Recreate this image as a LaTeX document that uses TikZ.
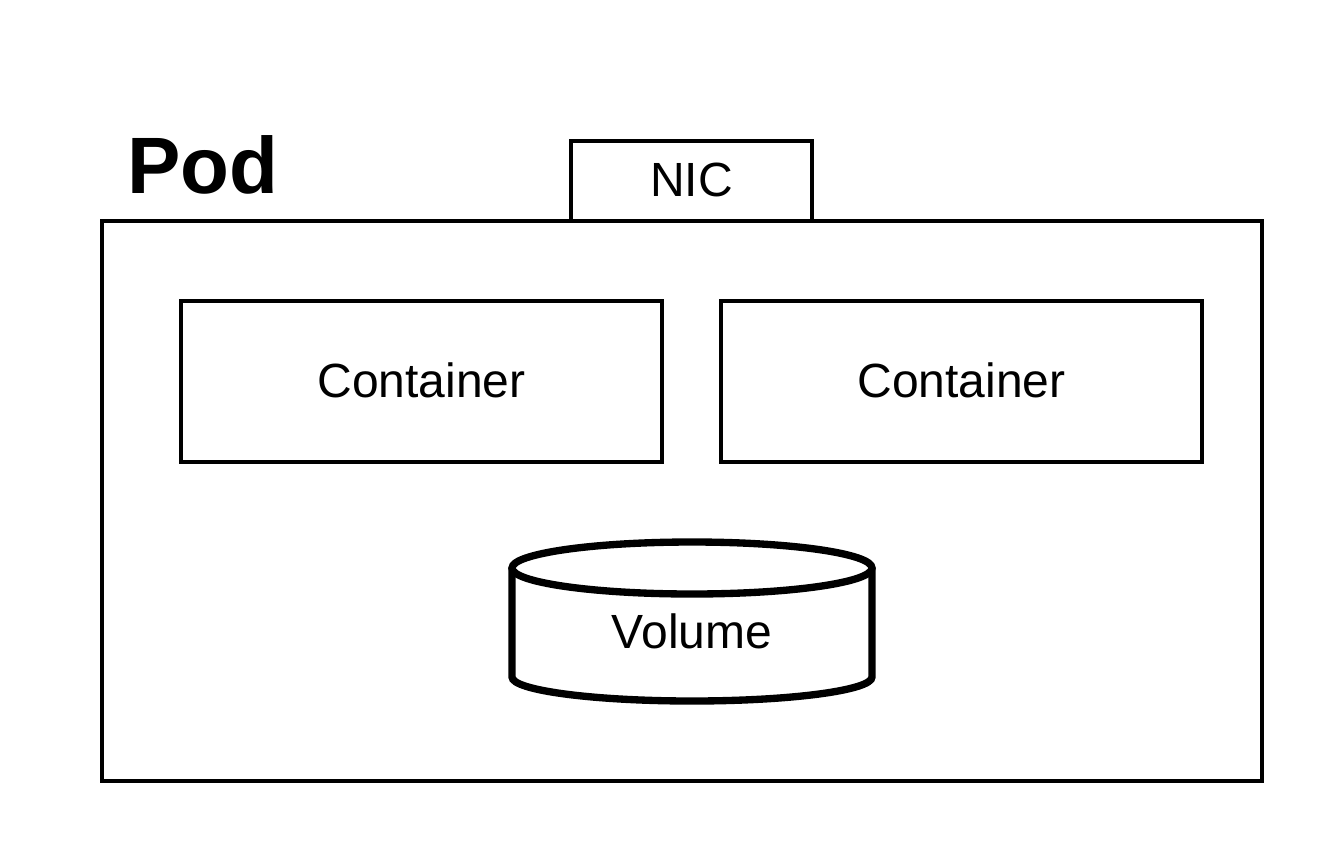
\documentclass[tikz,border=0pt]{standalone}
\usepackage{fontspec}
\setmainfont{Liberation Sans}
\begin{document}
\begin{tikzpicture}[x=0.75pt,y=-0.75pt,
  box/.style={draw=black,line width=2.4pt,fill=white},
  lbl/.style={font=\fontsize{36}{42}\selectfont,inner sep=0pt}]
\useasboundingbox (0,0) rectangle (1344,864);
\fill[white] (0,0) rectangle (1344,864);
% NIC
\draw[box] (571,221) rectangle (812,141);
\node[lbl] (nic) at (691.5,180) {NIC};
% Pod
\draw[draw=black,line width=3pt] (102,221) rectangle (1262,781);
\node[font=\fontsize{60}{66}\selectfont\bfseries,inner sep=0pt,anchor=base west] (pod) at (127,193) {Pod};
% Containers
\draw[box] (181,301) rectangle (662,462);
\node[lbl] (c1) at (421.5,380) {Container};
\draw[box] (721,301) rectangle (1202,462);
\node[lbl] (c2) at (961.5,380) {Container};
% Volume
\draw[line width=5.5pt,fill=white] (512,568) -- (512,677)
  arc[start angle=180,end angle=0,x radius=180,y radius=24] -- (872,568);
\draw[line width=5.5pt,fill=white] (692,568) ellipse[x radius=180,y radius=26];
\node[lbl] (vol) at (692,631) {Volume};
\end{tikzpicture}
\end{document}
